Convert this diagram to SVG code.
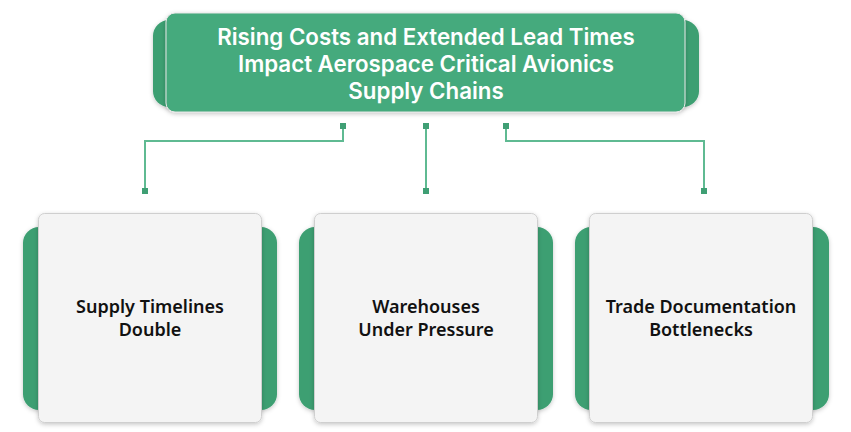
<svg xmlns="http://www.w3.org/2000/svg" width="851" height="432" viewBox="0 0 851 432">
<defs>
<filter id="sh" x="-10%" y="-10%" width="120%" height="125%">
<feDropShadow dx="0" dy="1.5" stdDeviation="2" flood-color="#000" flood-opacity="0.22"/>
</filter>
<style>
.tab{fill:#3d9f72;}
.main{fill:#44aa7d;stroke:#e6e6e6;stroke-width:1;}
.card{fill:#f4f4f4;stroke:#cfcfcf;stroke-width:1;}
.ttl{font-family:Inter,"Liberation Sans",sans-serif;font-weight:600;font-size:22.3px;fill:#ffffff;text-anchor:middle;}
.lbl{font-family:"Noto Sans","Open Sans",sans-serif;font-weight:600;font-size:18px;fill:#111111;text-anchor:middle;}
.ln{fill:none;stroke:#5fba92;stroke-width:2;}
.dot{fill:#3f9f74;}
</style>
</defs>
<rect width="851" height="432" fill="#ffffff"/>
<g id="title">
<rect class="tab" x="153" y="20" width="546" height="87" rx="16" filter="url(#sh)"/>
<rect class="main" x="166" y="13" width="519" height="99" rx="9" filter="url(#sh)"/>
<text class="ttl" x="426" y="45">Rising Costs and Extended Lead Times</text>
<text class="ttl" x="426" y="72">Impact Aerospace Critical Avionics</text>
<text class="ttl" x="426" y="99">Supply Chains</text>
</g>
<g id="connectors">
<polyline class="ln" points="343,126 343,141 145,141 145,191"/>
<line class="ln" x1="426" y1="126" x2="426" y2="191"/>
<polyline class="ln" points="506,126 506,141 704,141 704,191"/>
<rect class="dot" x="340" y="123" width="6" height="6"/>
<rect class="dot" x="423" y="123" width="6" height="6"/>
<rect class="dot" x="503" y="123" width="6" height="6"/>
<rect class="dot" x="142" y="188" width="6" height="6"/>
<rect class="dot" x="423" y="188" width="6" height="6"/>
<rect class="dot" x="701" y="188" width="6" height="6"/>
</g>
<g id="card1">
<rect class="tab" x="23" y="227" width="254" height="183" rx="16" filter="url(#sh)"/>
<rect class="card" x="38.5" y="213.5" width="223" height="209" rx="6" filter="url(#sh)"/>
<text class="lbl" x="150" y="313">Supply Timelines</text>
<text class="lbl" x="150" y="336">Double</text>
</g>
<g id="card2">
<rect class="tab" x="299" y="227" width="254" height="183" rx="16" filter="url(#sh)"/>
<rect class="card" x="314.5" y="213.5" width="223" height="209" rx="6" filter="url(#sh)"/>
<text class="lbl" x="426" y="313">Warehouses</text>
<text class="lbl" x="426" y="336">Under Pressure</text>
</g>
<g id="card3">
<rect class="tab" x="575" y="227" width="254" height="183" rx="16" filter="url(#sh)"/>
<rect class="card" x="589.5" y="213.5" width="223" height="209" rx="6" filter="url(#sh)"/>
<text class="lbl" x="701" y="313">Trade Documentation</text>
<text class="lbl" x="701" y="336">Bottlenecks</text>
</g>
</svg>
